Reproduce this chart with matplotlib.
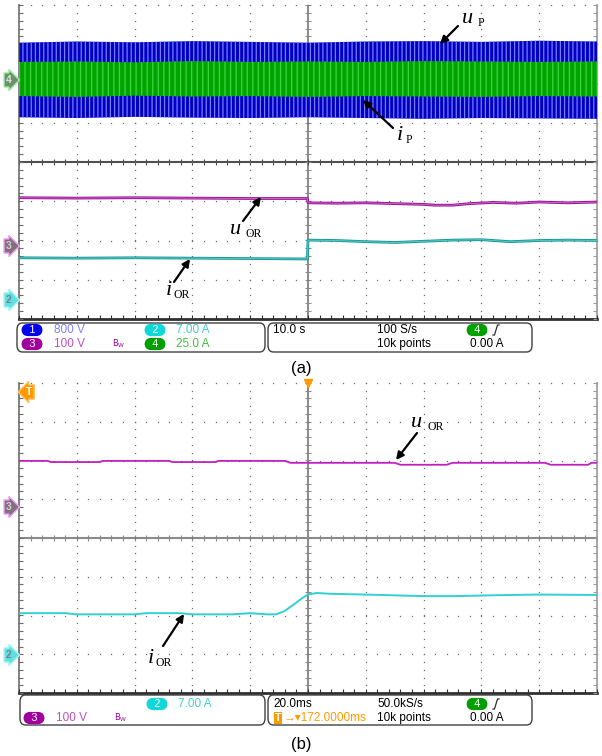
"""Oscilloscope captures (a) and (b): u_P / i_P bands and u_OR / i_OR traces."""

import numpy as np
import matplotlib

matplotlib.use("Agg")
import matplotlib.pyplot as plt
from matplotlib.patches import FancyBboxPatch, FancyArrowPatch
from matplotlib.lines import Line2D

plt.rcParams["hatch.linewidth"] = 0.9

W, H = 602, 756
SANS = ["Liberation Sans", "DejaVu Sans"]

# ---- data (screen divisions: x 0..10, y -4..4) ----
# (a) ch1 u_P band and ch4 i_P band
band_x = [0, 1, 2, 3, 4, 5, 6, 7, 8, 9, 10]
up_top = [3.04, 3.07, 3.05, 3.08, 3.06, 3.04, 3.07, 3.08, 3.06, 3.09, 3.07]
up_bot = [1.14, 1.12, 1.15, 1.13, 1.12, 1.14, 1.12, 1.10, 1.12, 1.11, 1.10]
ip_top = [2.55, 2.56, 2.54, 2.57, 2.55, 2.56, 2.55, 2.57, 2.56, 2.55, 2.56]
ip_bot = [1.68, 1.66, 1.69, 1.67, 1.68, 1.66, 1.68, 1.67, 1.66, 1.68, 1.67]

# (a) ch3 u_OR
uor_a_x = [0, 1, 2, 3, 4, 4.99, 5.0, 5.5, 6, 6.5, 7, 7.2, 7.5, 7.8, 8.2, 8.6, 9, 9.5, 10]
uor_a_y = [-0.91, -0.92, -0.91, -0.92, -0.93, -0.93, -1.04, -1.05, -1.04, -1.06,
           -1.08, -1.10, -1.10, -1.06, -1.03, -1.05, -1.02, -1.04, -1.02]
# (a) ch2 i_OR
ior_a_x = [0, 1, 2, 3, 4, 4.99, 5.0, 5.5, 6, 6.5, 7, 7.5, 8, 8.5, 9, 9.5, 10]
ior_a_y = [-2.44, -2.45, -2.44, -2.45, -2.46, -2.47, -1.99, -2.00, -2.03, -2.05,
           -2.02, -1.99, -1.98, -2.03, -2.00, -1.99, -2.00]

# (b) ch3 u_OR
uor_b_x = [0.0, 0.5, 0.55, 1.4, 1.45, 2.6, 2.65, 3.4, 3.45, 4.6, 4.7, 5.0, 6.5,
           6.6, 7.4, 7.5, 9.1, 9.2, 9.85, 9.9, 10.0]
uor_b_y = [1.99, 1.99, 1.96, 1.96, 1.99, 1.99, 1.96, 1.96, 1.99, 1.99, 1.94, 1.94,
           1.94, 1.89, 1.89, 1.94, 1.94, 1.89, 1.89, 1.94, 1.94]
# (b) ch2 i_OR
ior_b_x = [0.0, 0.8, 1.0, 2.0, 2.2, 2.8, 3.0, 3.7, 4.0, 4.3, 4.45, 4.6, 4.75,
           4.9, 5.0, 5.15, 5.4, 6.0, 7.0, 7.5, 8.5, 9.0, 10.0]
ior_b_y = [-1.94, -1.94, -1.97, -1.97, -1.94, -1.94, -1.97, -1.97, -1.94, -1.97,
           -1.97, -1.88, -1.72, -1.55, -1.46, -1.42, -1.44, -1.46, -1.50, -1.50,
           -1.47, -1.46, -1.47]


def fx(px):
    return px / W


def fy(py):
    return 1 - py / H


def graticule(ax, center_color):
    ax.set_xlim(0, 10)
    ax.set_ylim(-4, 4)
    ax.axis("off")
    minor_x = np.arange(0, 10.01, 0.2)
    minor_y = np.arange(-4, 4.01, 0.2)
    dot = dict(ls="none", marker="s", ms=0.9, mew=0, color="#707070", clip_on=False)
    for gx in [1, 2, 3, 4, 6, 7, 8, 9]:
        ax.plot(np.full_like(minor_y, gx), minor_y, **dot)
    for gy in [-3, -2, -1, 1, 2, 3, 4]:
        ax.plot(minor_x, np.full_like(minor_x, gy), **dot)
    # centre cross
    ax.plot([5, 5], [-4, 4], color="#8a8a8a", lw=1.4, zorder=1)
    ax.plot([0, 10], [0, 0], color=center_color, lw=1.5, zorder=1)
    ax.plot(np.full_like(minor_y, 5), minor_y, ls="none", marker="_", ms=5,
            mew=0.8, color="#8a8a8a", zorder=1)
    ax.plot(minor_x, np.zeros_like(minor_x), ls="none", marker="|", ms=5,
            mew=0.8, color=center_color, zorder=1)
    # border
    ax.plot([0, 0], [-4, 4], color="#6a6a6a", lw=1.2, clip_on=False)
    ax.plot([10, 10], [-4, 4], color="#9a9a9a", lw=1.2, clip_on=False)
    ax.plot([0, 10], [-4, -4], color="#303030", lw=2.0, clip_on=False)
    ax.plot(np.zeros_like(minor_y), minor_y, ls="none", marker=1, ms=3,
            mew=0.8, color="#6a6a6a", clip_on=False)
    ax.plot(np.full_like(minor_y, 10), minor_y, ls="none", marker=0, ms=3,
            mew=0.8, color="#9a9a9a", clip_on=False)
    ax.plot(minor_x, np.full_like(minor_x, -4), ls="none", marker=2, ms=3,
            mew=0.8, color="#303030", clip_on=False)


def tag(fig, px, py, label, face, edge, tcolor, style="rarrow"):
    fig.text(fx(px), fy(py), label, fontsize=7.5, color=tcolor, ha="center",
             va="center", fontweight="bold", family=SANS,
             bbox=dict(boxstyle=f"{style},pad=0.2", fc=face, ec=edge, lw=1.0))


def label(fig, px, py, main, sub, dx=16):
    fig.text(fx(px), fy(py), main, fontsize=16, style="italic",
             family="Liberation Serif", ha="left", va="baseline")
    fig.text(fx(px + dx), fy(py + 3), sub, fontsize=8.5,
             family="Liberation Serif", ha="left", va="baseline")


def arrow(fig, tail, head):
    fig.add_artist(FancyArrowPatch(
        (fx(tail[0]), fy(tail[1])), (fx(head[0]), fy(head[1])),
        transform=fig.transFigure, arrowstyle="-|>", mutation_scale=11,
        color="black", lw=1.6, shrinkA=0, shrinkB=0))


def badge(fig, px, py, num, face):
    fig.text(fx(px), fy(py), f"  {num}  ", fontsize=8, color="white", ha="center",
             va="center", family=SANS,
             bbox=dict(boxstyle="round,pad=0.1,rounding_size=0.6", fc=face, ec="none"))


def info(fig, px, py, s, color="black"):
    fig.text(fx(px), fy(py), s, fontsize=8.5, color=color, ha="left", va="center",
             family=SANS)


def box(fig, x0, x1, y0, y1):
    fig.add_artist(FancyBboxPatch((fx(x0), fy(y1)), fx(x1) - fx(x0), fy(y0) - fy(y1),
                                  boxstyle="round,pad=0,rounding_size=0.009",
                                  transform=fig.transFigure, fc="none",
                                  ec="#404040", lw=1.0))


def slope(fig, px, py):
    fig.add_artist(Line2D([fx(px), fx(px + 1.5), fx(px + 4.5), fx(px + 6)],
                          [fy(py + 5), fy(py + 5), fy(py - 5), fy(py - 5)],
                          transform=fig.transFigure, color="#303030", lw=0.9))


fig = plt.figure(figsize=(W / 100, H / 100), dpi=100)
ax_a = fig.add_axes([fx(19), fy(319), (597 - 19) / W, (319 - 5) / H])
ax_b = fig.add_axes([fx(19), fy(693), (597 - 19) / W, (693 - 383) / H])

graticule(ax_a, "#505050")
graticule(ax_b, "#8a8a8a")

# ---- (a) traces ----
ax_a.fill_between(band_x, up_bot, up_top, facecolor="#0000c0", edgecolor="#7a7aff",
                  hatch="||||", lw=0, zorder=3)
ax_a.fill_between(band_x, ip_bot, ip_top, facecolor="#00a400", edgecolor="#3ed43e",
                  hatch="|||", lw=0, zorder=4)
ax_a.plot(uor_a_x, uor_a_y, color="#a0109c", lw=2.0, zorder=5)
ax_a.plot(uor_a_x, uor_a_y, color="#c870c8", lw=0.6, zorder=5)
ax_a.plot(ior_a_x, ior_a_y, color="#1a9a9a", lw=2.0, zorder=5)
ax_a.plot(ior_a_x, ior_a_y, color="#60cccc", lw=0.6, zorder=5)

# ---- (b) traces ----
ax_b.plot(uor_b_x, uor_b_y, color="#c020c0", lw=1.3, zorder=5)
ax_b.plot(ior_b_x, ior_b_y, color="#30d0d0", lw=1.4, zorder=5)
ax_b.plot([5], [4.0], ls="none", marker="v", ms=6, color="#ff9a00", clip_on=False)

# channel tags
tag(fig, 9, 80, "4", "#6f8f6f", "#a0f0a0", "#d0e8d0")
tag(fig, 9, 246, "3", "#807080", "#f0a0f0", "#d8c8d8")
tag(fig, 9, 300, "2", "#60e0e0", "#a8f4f4", "#708888")
tag(fig, 9, 507, "3", "#807080", "#f0a0f0", "#d8c8d8")
tag(fig, 9, 655, "2", "#60e0e0", "#a8f4f4", "#708888")
tag(fig, 29, 392, "T", "#ff9a00", "#ffc060", "white", style="larrow")

# annotations
label(fig, 462, 23, "u", "P")
arrow(fig, (458, 26), (440, 44))
label(fig, 397, 140, "i", "P", dx=9)
arrow(fig, (393, 128), (363, 100))
label(fig, 230, 234, "u", "OR")
arrow(fig, (243, 221), (261, 197))
label(fig, 166, 295, "i", "OR", dx=8)
arrow(fig, (174, 282), (190, 259))
label(fig, 411, 427, "u", "OR")
arrow(fig, (417, 433), (396, 460))
label(fig, 148, 663, "i", "OR", dx=8)
arrow(fig, (163, 646), (184, 614))

# ---- info panel (a) ----
box(fig, 17, 265, 323, 352)
box(fig, 268, 532, 323, 352)
badge(fig, 32, 330, "1", "#0000ee")
info(fig, 54, 330, "800 V", "#8080ff")
badge(fig, 155, 330, "2", "#10d8d8")
info(fig, 176, 330, "7.00 A", "#40d0d0")
badge(fig, 32, 344, "3", "#a000a0")
info(fig, 54, 344, "100 V", "#c050c0")
fig.text(fx(112), fy(344), r"$\mathregular{B_W}$", fontsize=6, color="#a000a0",
         ha="left", va="center")
badge(fig, 155, 344, "4", "#00a000")
info(fig, 176, 344, "25.0 A", "#40c040")
info(fig, 273, 330, "10.0 s")
info(fig, 377, 330, "100 S/s")
info(fig, 377, 344, "10k points")
badge(fig, 477, 330, "4", "#00a000")
slope(fig, 493, 330)
info(fig, 470, 344, "0.00 A")
fig.text(fx(301), fy(368), "(a)", fontsize=12, ha="center", va="center",
         family=SANS)

# ---- info panel (b) ----
box(fig, 20, 265, 695, 725)
box(fig, 268, 532, 695, 725)
badge(fig, 157, 704, "2", "#10d8d8")
info(fig, 178, 704, "7.00 A", "#40d0d0")
badge(fig, 34, 718, "3", "#a000a0")
info(fig, 56, 718, "100 V", "#c050c0")
fig.text(fx(114), fy(718), r"$\mathregular{B_W}$", fontsize=6, color="#a000a0",
         ha="left", va="center")
info(fig, 273, 704, "20.0ms")
fig.text(fx(278), fy(718), "T", fontsize=7.5, color="white", ha="center", va="center",
         family=SANS, fontweight="bold",
         bbox=dict(boxstyle="square,pad=0.1", fc="#ff9a00", ec="none"))
info(fig, 284, 718, "→▾172.0000ms", "#ff9a00")
info(fig, 377, 704, "50.0kS/s")
info(fig, 377, 718, "10k points")
badge(fig, 477, 704, "4", "#00a000")
slope(fig, 493, 704)
info(fig, 470, 718, "0.00 A")
fig.text(fx(301), fy(745), "(b)", fontsize=12, ha="center", va="center",
         family=SANS)

fig.savefig("out.png", dpi=100)
